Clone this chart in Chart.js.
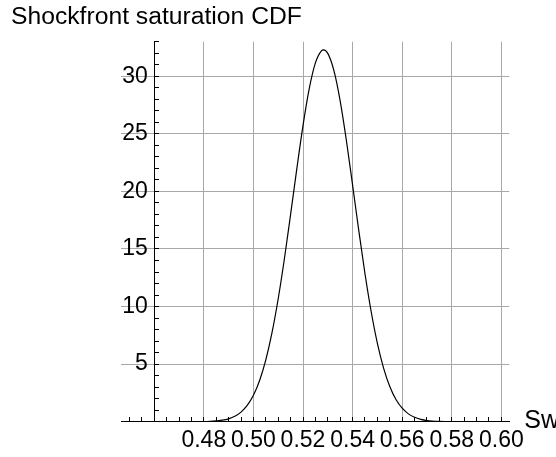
<!DOCTYPE html>
<html>
<head>
<meta charset="utf-8">
<title>Shockfront saturation CDF</title>
<script src="https://cdn.jsdelivr.net/npm/chart.js@4/dist/chart.umd.min.js"></script>
<style>
  html, body { margin: 0; padding: 0; background: #fff; }
  canvas { display: block; }
</style>
</head>
<body>
<canvas id="cdfChart" width="556" height="457"></canvas>
<script>
// Sw values and the density
const sw = [0.46, 0.465, 0.47, 0.475, 0.48, 0.4825, 0.485, 0.4875, 0.49, 0.4925, 0.495, 0.4975,
            0.5, 0.5025, 0.505, 0.5075, 0.51, 0.5125, 0.515, 0.5175, 0.52, 0.5225, 0.525, 0.5275,
            0.5283, 0.53, 0.5325, 0.535, 0.5375, 0.54, 0.5425, 0.545, 0.5475, 0.55, 0.5525, 0.555,
            0.5575, 0.56, 0.5625, 0.565, 0.5675, 0.57, 0.575, 0.58, 0.585, 0.59, 0.6];
const density = [0, 0, 0, 0, 0.01, 0.03, 0.07, 0.13, 0.25, 0.47, 0.83, 1.41,
                 2.29, 3.58, 5.37, 7.73, 10.68, 14.15, 18.0, 21.96, 25.72, 28.9, 31.16, 32.23,
                 32.3, 31.99, 30.47, 27.85, 24.42, 20.55, 16.59, 12.85, 9.55, 6.81, 4.66, 3.06,
                 1.93, 1.17, 0.68, 0.38, 0.2, 0.1, 0.02, 0, 0, 0, 0];

const xMajorTicks = [0.48, 0.50, 0.52, 0.54, 0.56, 0.58, 0.60];
const yMajorTicks = [5, 10, 15, 20, 25, 30];

const FONT = '"Liberation Sans", Arial, sans-serif';
const GRID = '#a8a8a8';

function isMajor(list, v) {
    return list.some(t => Math.abs(t - v) < 1e-9);
}

// minor ticks every 0.005 on x and every 1 on y
function xTicks() {
    const out = [];
    for (let i = 0; i <= 30; i++) out.push({value: +(0.45 + i * 0.005).toFixed(3)});
    return out;
}
function yTicks() {
    const out = [];
    for (let i = 1; i <= 33; i++) out.push({value: i});
    return out;
}

const axisLabel = {
    id: 'axisLabel',
    afterDraw(chart) {
        const {ctx, chartArea, scales} = chart;
        ctx.save();
        ctx.font = '25px ' + FONT;
        ctx.fillStyle = '#000';
        ctx.textBaseline = 'alphabetic';
        ctx.fillText('Sw', chartArea.right + 15, scales.y.getPixelForValue(0) + 6);
        ctx.restore();
    }
};

Chart.defaults.font.family = FONT;
Chart.defaults.color = '#000';

const ctx = document.getElementById('cdfChart');
const cdfChart = new Chart(ctx, {
    type: 'line',
    data: {
        datasets: [{
            data: sw.map((v, i) => ({x: v, y: density[i]})),
            borderColor: '#000',
            borderWidth: 1.2,
            pointRadius: 0,
            fill: false,
            cubicInterpolationMode: 'monotone'
        }]
    },
    options: {
        responsive: false,
        animation: false,
        layout: {
            padding: {left: 11, top: 0, right: 46.7, bottom: 35.3}
        },
        plugins: {
            legend: {display: false},
            tooltip: {enabled: false},
            title: {
                display: true,
                text: 'Shockfront saturation CDF',
                align: 'start',
                color: '#000',
                font: {size: 24.7, weight: 'normal'},
                padding: {top: 2, bottom: 10.1}
            }
        },
        scales: {
            x: {
                type: 'linear',
                min: 0.4466,
                max: 0.6032,
                position: {y: 0},
                afterBuildTicks: s => { s.ticks = xTicks(); },
                afterFit: s => { s.height = 0; },
                ticks: {
                    autoSkip: false,
                    maxRotation: 0,
                    minRotation: 0,
                    padding: 10,
                    font: {size: 23},
                    callback: v => isMajor(xMajorTicks, v) ? v.toFixed(2) : ''
                },
                grid: {
                    color: c => isMajor(xMajorTicks, c.tick.value) ? GRID : 'rgba(0,0,0,0)',
                    lineWidth: 1,
                    tickColor: '#000',
                    tickLength: -5,
                    tickWidth: 1
                },
                border: {color: '#000', width: 1}
            },
            y: {
                type: 'linear',
                min: 0,
                max: 33,
                position: {x: 0.46},
                afterBuildTicks: s => { s.ticks = yTicks(); },
                afterFit: s => { s.width = 0; },
                ticks: {
                    autoSkip: false,
                    font: {size: 23},
                    // trailing space keeps the label clear of the axis line
                    callback: v => isMajor(yMajorTicks, v) ? v + ' ' : ''
                },
                grid: {
                    color: c => isMajor(yMajorTicks, c.tick.value) ? GRID : 'rgba(0,0,0,0)',
                    lineWidth: 1,
                    tickColor: '#000',
                    tickLength: -5,
                    tickWidth: 1
                },
                border: {color: '#000', width: 1}
            },
            gutter: {
                type: 'linear',
                axis: 'y',
                position: 'left',
                ticks: {display: false},
                grid: {display: false},
                border: {display: false},
                afterFit: s => { s.width = 110; }
            }
        }
    },
    plugins: [axisLabel]
});
</script>
</body>
</html>
